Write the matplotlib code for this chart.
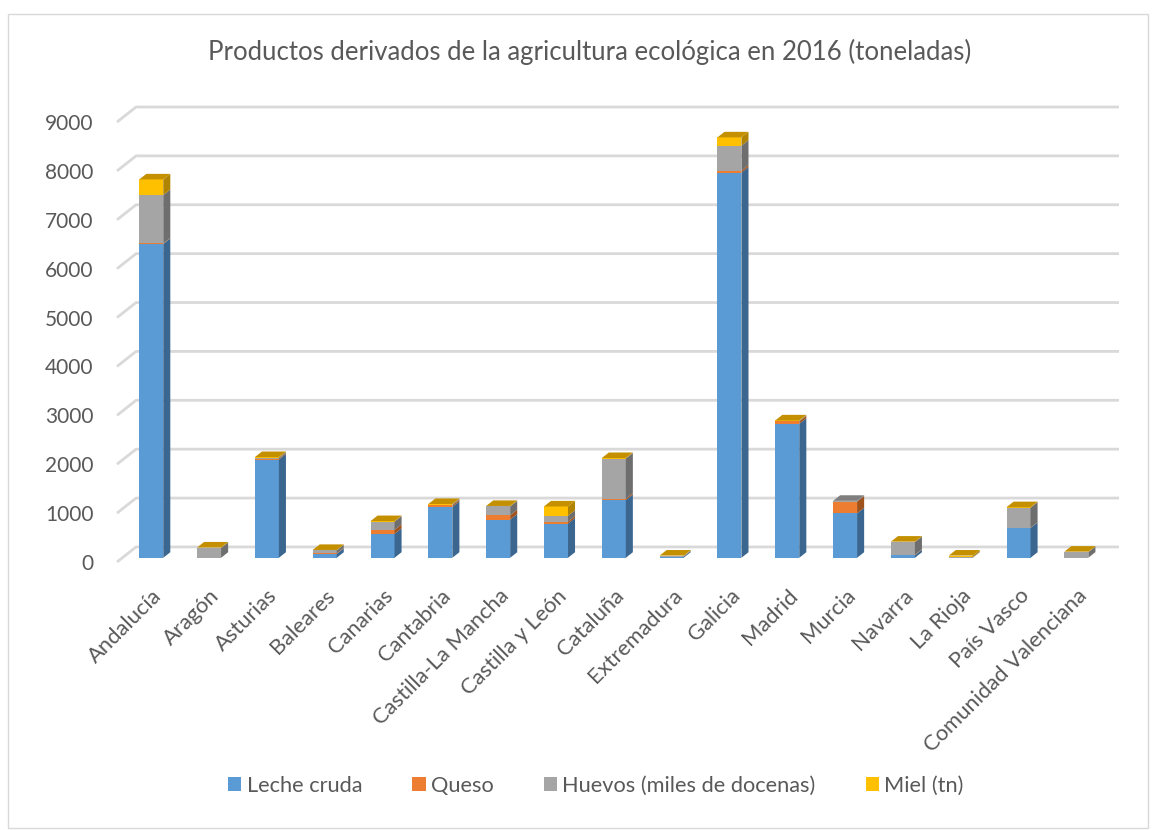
import matplotlib
matplotlib.use("Agg")
import matplotlib.pyplot as plt
from matplotlib.patches import Polygon, Patch, Rectangle
import numpy as np

categorias = ['Andalucía', 'Aragón', 'Asturias', 'Baleares', 'Canarias', 'Cantabria',
              'Castilla-La Mancha', 'Castilla y León', 'Cataluña', 'Extremadura', 'Galicia',
              'Madrid', 'Murcia', 'Navarra', 'La Rioja', 'País Vasco', 'Comunidad Valenciana']
series = ['Leche cruda', 'Queso', 'Huevos (miles de docenas)', 'Miel (tn)']

leche = [6420, 0, 2010, 80, 490, 1040, 780, 700, 1180, 20, 7880, 2740, 910, 50, 0, 610, 0]
queso = [10, 0, 20, 10, 80, 30, 90, 40, 30, 5, 40, 50, 240, 10, 5, 5, 5]
huevos = [990, 200, 20, 60, 170, 20, 180, 120, 820, 10, 510, 10, 15, 260, 10, 410, 110]
miel = [320, 10, 10, 10, 10, 10, 10, 190, 10, 10, 170, 10, np.nan, 10, 30, 10, 10]

colores = ['#5B9BD5', '#ED7D31', '#A5A5A5', '#FFC000']
lados = ['#3A6690', '#A0521C', '#6E6E6E', '#B08400']
techos = ['#4A80B3', '#C0601F', '#7F7F7F', '#C49000']

plt.rcParams['font.family'] = ['Lato', 'DejaVu Sans']
texto = '#595959'

fig = plt.figure(figsize=(11.57, 8.30), dpi=100)
W, H = 1157, 830
ax = fig.add_axes([117 / W, 1 - 562 / H, (1119 - 117) / W, (562 - 107) / H])

# depth of the 3D floor in data units
ddx = 0.33
ddy = 308
d0, d1 = 0.28, 0.65
ancho = 0.415

ax.set_xlim(-0.5, len(categorias) - 0.5 + ddx)
ax.set_ylim(0, 9000 + ddy)
for s in ax.spines.values():
    s.set_visible(False)

# back wall gridlines + floor diagonals
for v in range(0, 10000, 1000):
    ax.plot([-0.5, -0.5 + ddx, len(categorias) - 0.5 + ddx], [v, v + ddy, v + ddy],
            color='#D9D9D9', lw=2, clip_on=False, zorder=1, solid_capstyle='butt')

datos = [leche, queso, huevos, miel]
dx = (d1 - d0) * ddx
dy = (d1 - d0) * ddy
for i in range(len(categorias)):
    xl = i - ancho / 2 + d0 * ddx
    xr = xl + ancho
    base = d0 * ddy
    ultimo = 0
    for k, serie in enumerate(datos):
        v = serie[i]
        if np.isnan(v):
            continue
        ultimo = k
        y0, y1 = base, base + v
        if v > 0:
            ax.add_patch(Rectangle((xl, y0), ancho, v, facecolor=colores[k], edgecolor='none',
                                   zorder=3, clip_on=False))
            ax.add_patch(Polygon([(xr, y0), (xr + dx, y0 + dy), (xr + dx, y1 + dy), (xr, y1)],
                                 closed=True, facecolor=lados[k], edgecolor='none',
                                 zorder=3, clip_on=False))
        base = y1
    # top face takes the colour of the last series present
    ax.add_patch(Polygon([(xl, base), (xr, base), (xr + dx, base + dy), (xl + dx, base + dy)],
                         closed=True, facecolor=techos[ultimo], edgecolor='none',
                         zorder=4, clip_on=False))

ax.set_yticks(range(0, 10000, 1000))
ax.set_yticklabels([str(v) for v in range(0, 10000, 1000)], fontsize=15, color=texto)
ax.set_xticks(np.arange(len(categorias)) + 0.1)
ax.set_xticklabels(categorias, rotation=45, ha='right', rotation_mode='anchor',
                   fontsize=15.8, color=texto)
ax.tick_params(axis='y', length=0, pad=17)
ax.tick_params(axis='x', length=0, pad=17)

fig.text(590 / W, 1 - 52 / H, 'Productos derivados de la agricultura ecológica en 2016 (toneladas)',
         ha='center', va='center', fontsize=18.5, color=texto)

handles = [Patch(facecolor=c, edgecolor='none') for c in colores]
fig.legend(handles, series, loc='center', bbox_to_anchor=(596 / W, 1 - 786 / H), ncol=4,
           frameon=False, fontsize=15.7, handlelength=0.6, handleheight=0.6,
           handletextpad=0.25, columnspacing=2.3, labelcolor=texto)

fig.patches.append(Rectangle((8 / W, 2 / H), 1140 / W, 814 / H, transform=fig.transFigure,
                             fill=False, edgecolor='#D9D9D9', lw=1))

fig.savefig('out.png', dpi=100)
